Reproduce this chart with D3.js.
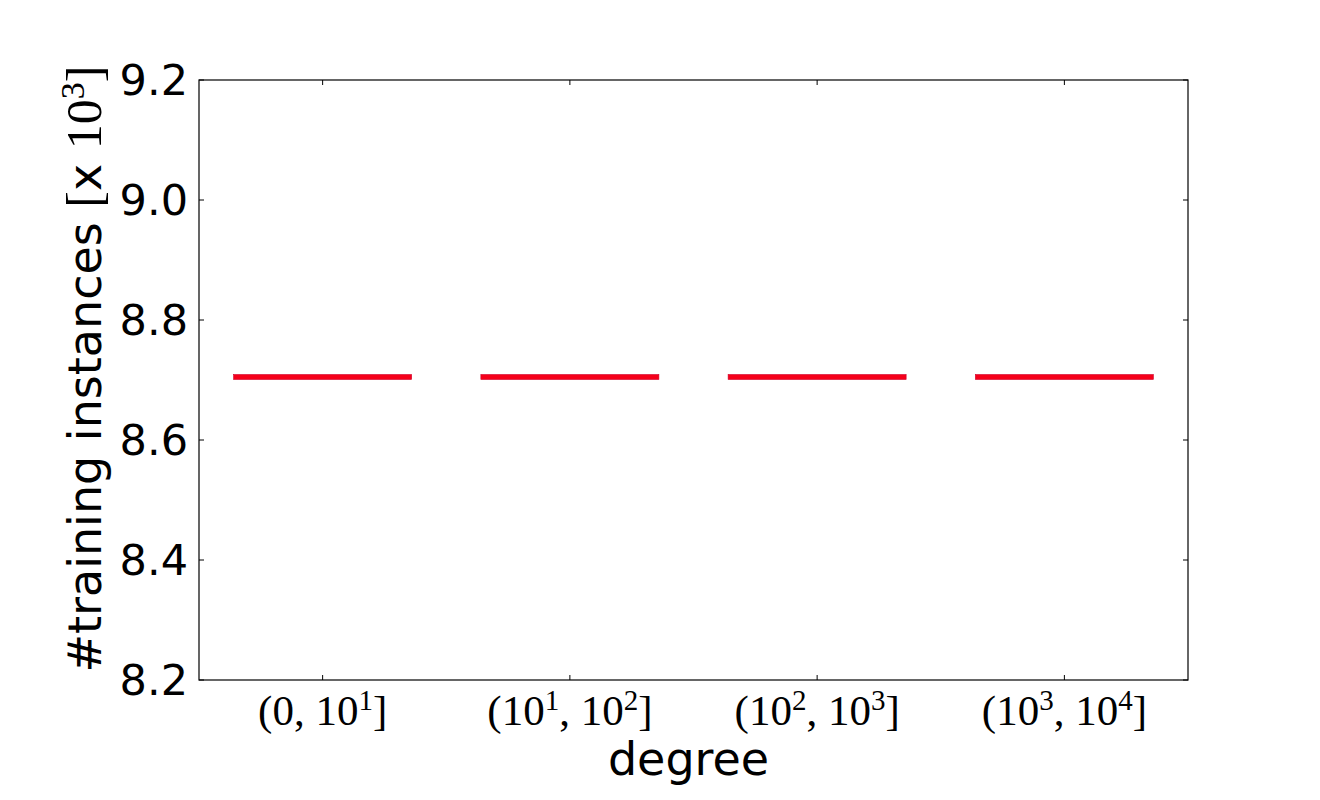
<!DOCTYPE html>
<html>
<head>
<meta charset="utf-8">
<script src="https://cdn.jsdelivr.net/npm/d3@7"></script>
<style>
  body { margin: 0; background: #fff; }
  svg { display: block; }
  .sans { font-family: "DejaVu Sans", sans-serif; }
  .serif { font-family: "Liberation Serif", "DejaVu Serif", serif; }
</style>
</head>
<body>
<svg></svg>
<script>
const width = 1320;
const height = 800;

// data
const bins = ["(0,1]", "(1,2]", "(2,3]", "(3,4]"];
const binLo = ["0", "10^1", "10^2", "10^3"];
const binHi = ["10^1", "10^2", "10^3", "10^4"];
const instances = [8.705, 8.705, 8.705, 8.705];
const yTicks = [8.2, 8.4, 8.6, 8.8, 9.0, 9.2];

const margin = {top: 80, right: 132, bottom: 120, left: 199};
const viewWidth = width - margin.left - margin.right;
const viewHeight = height - margin.top - margin.bottom;

const root = d3.select("svg")
    .attr("width", width)
    .attr("height", height);

const svg = root.append("g")
    .attr("transform", "translate(" + margin.left + "," + margin.top + ")");

const x = d3.scaleBand()
    .domain(bins)
    .range([0, viewWidth])
    .paddingInner(0.28)
    .paddingOuter(0.14)
    .align(0.5);

const xc = d3.scaleBand().domain(bins).range([0, viewWidth]);

const y = d3.scaleLinear()
    .domain([8.2, 9.2])
    .range([viewHeight, 0]);

// writes "a^b" pieces into a text node, superscripts shifted up
function mathText(sel, pieces, supSize, shift) {
  let pending = 0;
  pieces.forEach(p => {
    const parts = p.split("^");
    sel.append("tspan").attr("dy", pending).text(parts[0]);
    pending = 0;
    if (parts.length > 1) {
      sel.append("tspan").attr("dy", -shift).style("font-size", supSize).text(parts[1]);
      pending = shift;
    }
  });
}

// segments
svg.append("g")
  .selectAll("rect")
  .data(instances)
  .enter()
  .append("rect")
    .attr("x", (d, i) => xc(bins[i]) + xc.bandwidth() / 2 - x.bandwidth() / 2)
    .attr("y", d => y(d) - 2.5)
    .attr("width", x.bandwidth())
    .attr("height", 5)
    .attr("fill", "#f5001a")
    .attr("stroke", "#d0002a")
    .attr("stroke-width", 0.6);

// y ticks, inside on both sides
const yTickG = svg.append("g");
yTicks.forEach(t => {
  yTickG.append("line")
    .attr("x1", 0).attr("x2", 5)
    .attr("y1", y(t)).attr("y2", y(t))
    .attr("stroke", "#000");
  yTickG.append("line")
    .attr("x1", viewWidth).attr("x2", viewWidth - 5)
    .attr("y1", y(t)).attr("y2", y(t))
    .attr("stroke", "#000");
  yTickG.append("text")
    .attr("class", "sans")
    .attr("x", -11)
    .attr("y", y(t))
    .attr("dy", "0.36em")
    .attr("text-anchor", "end")
    .style("font-size", "43px")
    .text(t.toFixed(1));
});

// x ticks, inside on both sides
const xTickG = svg.append("g");
bins.forEach((b, i) => {
  const cx = xc(b) + xc.bandwidth() / 2;
  xTickG.append("line")
    .attr("x1", cx).attr("x2", cx)
    .attr("y1", viewHeight).attr("y2", viewHeight - 5)
    .attr("stroke", "#000");
  xTickG.append("line")
    .attr("x1", cx).attr("x2", cx)
    .attr("y1", 0).attr("y2", 5)
    .attr("stroke", "#000");

  const label = xTickG.append("text")
    .attr("class", "serif")
    .attr("x", cx)
    .attr("y", viewHeight + 45)
    .attr("text-anchor", "middle")
    .style("font-size", "43px");
  mathText(label, ["(", binLo[i], ", ", binHi[i], "]"], "29px", 15);
});

// frame
svg.append("rect")
    .attr("x", 0).attr("y", 0)
    .attr("width", viewWidth).attr("height", viewHeight)
    .attr("fill", "none")
    .attr("stroke", "#000")
    .attr("stroke-width", 1.2);

// x label
svg.append("text")
    .attr("class", "sans")
    .attr("x", viewWidth / 2 - 5)
    .attr("y", viewHeight + 95)
    .attr("text-anchor", "middle")
    .style("font-size", "46px")
    .text("degree");

// y label
const yl = root.append("text")
    .attr("class", "sans")
    .attr("transform", "translate(101," + 369 + ") rotate(-90)")
    .attr("text-anchor", "middle")
    .style("font-size", "46px");
yl.append("tspan").text("#training instances ");
yl.append("tspan").attr("class", "serif").style("font-size", "50px").text("[");
yl.append("tspan").text("x ");
yl.append("tspan").attr("class", "serif").style("font-size", "50px").text("10");
yl.append("tspan").attr("class", "serif").attr("dy", -17).style("font-size", "34px").text("3");
yl.append("tspan").attr("class", "serif").attr("dy", 17).style("font-size", "50px").text("]");
</script>
</body>
</html>
